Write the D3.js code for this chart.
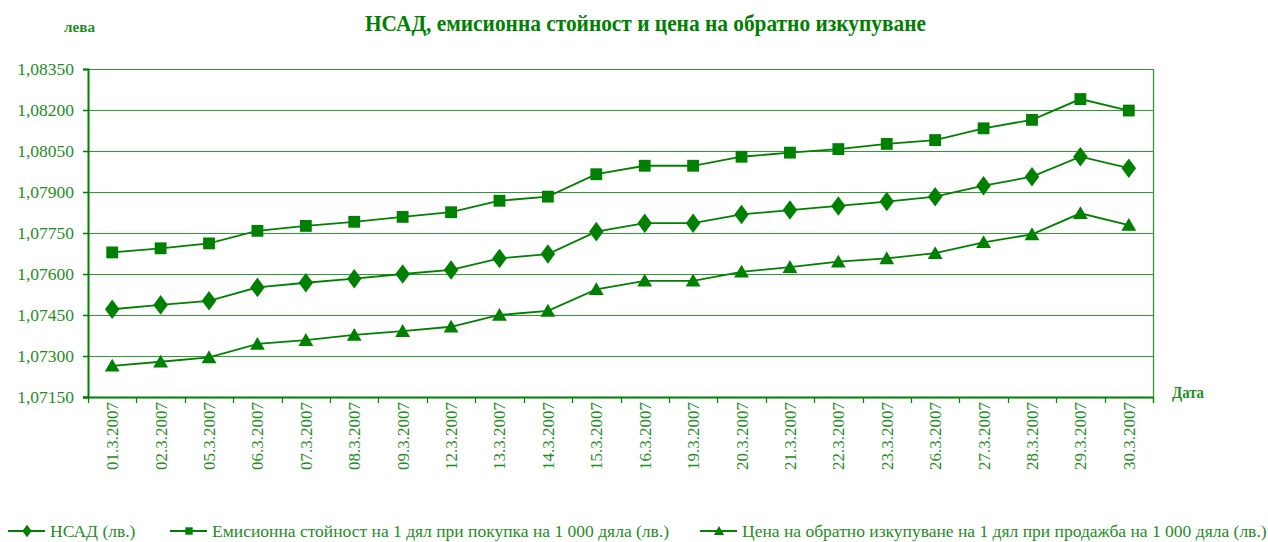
<!DOCTYPE html>
<html><head><meta charset="utf-8">
<script src="https://cdn.jsdelivr.net/npm/d3@7"></script>
<style>
html,body{margin:0;padding:0;background:#fff;}
</style></head>
<body>
<svg id="chart" width="1268" height="542"></svg>
<script>
const dates = ["01.3.2007","02.3.2007","05.3.2007","06.3.2007","07.3.2007","08.3.2007","09.3.2007","12.3.2007","13.3.2007","14.3.2007","15.3.2007","16.3.2007","19.3.2007","20.3.2007","21.3.2007","22.3.2007","23.3.2007","26.3.2007","27.3.2007","28.3.2007","29.3.2007","30.3.2007"];
const nsad = [1.07471,1.07487,1.07502,1.07551,1.07568,1.07583,1.07600,1.07615,1.07657,1.07673,1.07755,1.07786,1.07786,1.07818,1.07834,1.07849,1.07865,1.07883,1.07923,1.07956,1.08029,1.07987];
const emission = [1.07679,1.07694,1.07712,1.07758,1.07776,1.07791,1.07809,1.07826,1.07868,1.07883,1.07965,1.07996,1.07996,1.08029,1.08044,1.08057,1.08076,1.08090,1.08133,1.08164,1.08240,1.08198];
const redemption = [1.07264,1.07279,1.07295,1.07344,1.07358,1.07377,1.07391,1.07407,1.07450,1.07465,1.07544,1.07575,1.07575,1.07608,1.07625,1.07645,1.07657,1.07676,1.07716,1.07745,1.07822,1.07779];
const yTicks = [1.0715,1.073,1.0745,1.076,1.0775,1.079,1.0805,1.082,1.0835];
const seriesNames = ["НСАД (лв.)","Емисионна стойност на 1 дял при покупка на 1 000 дяла (лв.)","Цена на обратно изкупуване на 1 дял при продажба на 1 000 дяла (лв.)"];
const titleText = "НСАД, емисионна стойност и цена на обратно изкупуване";
const yUnit = "лева";
const xUnit = "Дата";

const FONT = "'Liberation Serif', 'Times New Roman', serif";
const svg = d3.select("#chart");
const L = 88, R = 1153, T = 69, B = 397;
const dark = "#008000", textC = "#1f8c1f", gridC = "#2f9a2f";

const x = d3.scaleBand().domain(dates).range([L, R]).padding(0);
const y = d3.scaleLinear().domain([1.0715, 1.0835]).range([B, T]);

// gridlines
svg.append("g").selectAll("line").data(yTicks).join("line")
  .attr("x1", L).attr("x2", R)
  .attr("y1", d => Math.round(y(d)) + 0.5).attr("y2", d => Math.round(y(d)) + 0.5)
  .attr("stroke", gridC).attr("stroke-width", 1);

// right border
svg.append("line").attr("x1", R + 0.5).attr("x2", R + 0.5).attr("y1", T).attr("y2", B + 6)
  .attr("stroke", gridC).attr("stroke-width", 1.3);

// y axis
const fmt = d => d3.format(".5f")(d).replace(".", ",");
const yAxis = d3.axisLeft(y).tickValues(yTicks).tickFormat(fmt).tickSize(5).tickPadding(9);
const gy = svg.append("g").attr("transform", `translate(${L},0)`).call(yAxis);
gy.attr("font-family", null);
gy.select(".domain").attr("stroke", dark).attr("stroke-width", 2);
gy.selectAll(".tick line").attr("stroke", dark).attr("stroke-width", 1.5);
gy.selectAll(".tick text").attr("fill", textC).attr("font-size", "17.5px")
  .style("font-family", FONT);

// x axis
const gx = svg.append("g").attr("transform", `translate(0,${B})`);
gx.append("line").attr("x1", L - 5).attr("x2", R).attr("y1", 0.5).attr("y2", 0.5)
  .attr("stroke", dark).attr("stroke-width", 2);
const bounds = dates.map(d => x(d)).concat([R]);
gx.selectAll("line.tk").data(bounds).join("line").attr("class", "tk")
  .attr("x1", d => Math.round(d) + 0.5).attr("x2", d => Math.round(d) + 0.5)
  .attr("y1", 0).attr("y2", 6).attr("stroke", dark).attr("stroke-width", 1.2);
gx.selectAll("text").data(dates).join("text")
  .attr("transform", d => `translate(${x(d) + x.bandwidth() / 2 + 6},5) rotate(-90)`)
  .attr("text-anchor", "end").attr("fill", textC).attr("font-size", "17px")
  .style("font-family", FONT)
  .text(d => d);

// series
const series = [
  { name: seriesNames[0], values: nsad, sym: d3.symbolDiamond, size: 100, lsize: 45 },
  { name: seriesNames[1], values: emission, sym: d3.symbolSquare, size: 140, lsize: 55 },
  { name: seriesNames[2], values: redemption, sym: d3.symbolTriangle, size: 95, lsize: 45 }
];
const line = d3.line().x((d, i) => x(dates[i]) + x.bandwidth() / 2).y(d => y(d));
series.forEach(s => {
  svg.append("path").attr("d", line(s.values)).attr("fill", "none")
    .attr("stroke", dark).attr("stroke-width", 1.8);
  svg.append("g").selectAll("path").data(s.values).join("path")
    .attr("d", d3.symbol().type(s.sym).size(s.size))
    .attr("transform", (d, i) => {
      const cx = x(dates[i]) + x.bandwidth() / 2;
      const cy = y(d) + (s.sym === d3.symbolTriangle ? 1.5 : 0);
      const sc = s.sym === d3.symbolDiamond ? "scale(1.35,1.05)" : "";
      return `translate(${cx},${cy}) ${sc}`;
    })
    .attr("fill", dark);
});

// title
svg.append("text").attr("x", 365).attr("y", 31)
  .style("font-family", FONT)
  .attr("font-size", "23px").attr("font-weight", "bold").attr("fill", dark)
  .attr("textLength", 561).attr("lengthAdjust", "spacingAndGlyphs").text(titleText);
svg.append("text").attr("x", 64).attr("y", 32).attr("font-size", "15px")
  .style("font-family", FONT)
  .attr("textLength", 31).attr("lengthAdjust", "spacingAndGlyphs")
  .attr("font-weight", "bold").attr("fill", textC).text(yUnit);
svg.append("text").attr("x", 1172).attr("y", 398).attr("font-size", "16px")
  .style("font-family", FONT)
  .attr("textLength", 32).attr("lengthAdjust", "spacingAndGlyphs")
  .attr("font-weight", "bold").attr("fill", textC).text(xUnit);

// legend
const legX = [8, 170, 700];
const lg = svg.append("g");
series.forEach((s, i) => {
  const g = lg.append("g").attr("transform", `translate(${legX[i]},531)`);
  g.append("line").attr("x1", 0).attr("x2", 37).attr("y1", 0).attr("y2", 0)
    .attr("stroke", dark).attr("stroke-width", 1.8);
  g.append("path").attr("d", d3.symbol().type(s.sym).size(s.lsize)())
    .attr("transform", `translate(19,${s.sym === d3.symbolTriangle ? 1 : 0}) ${s.sym === d3.symbolDiamond ? "scale(1.3,1)" : ""}`)
    .attr("fill", dark);
  g.append("text").attr("x", 42).attr("y", 6).attr("font-size", "17.5px")
    .style("font-family", FONT)
    .attr("fill", textC).text(s.name);
});
</script>
</body></html>
